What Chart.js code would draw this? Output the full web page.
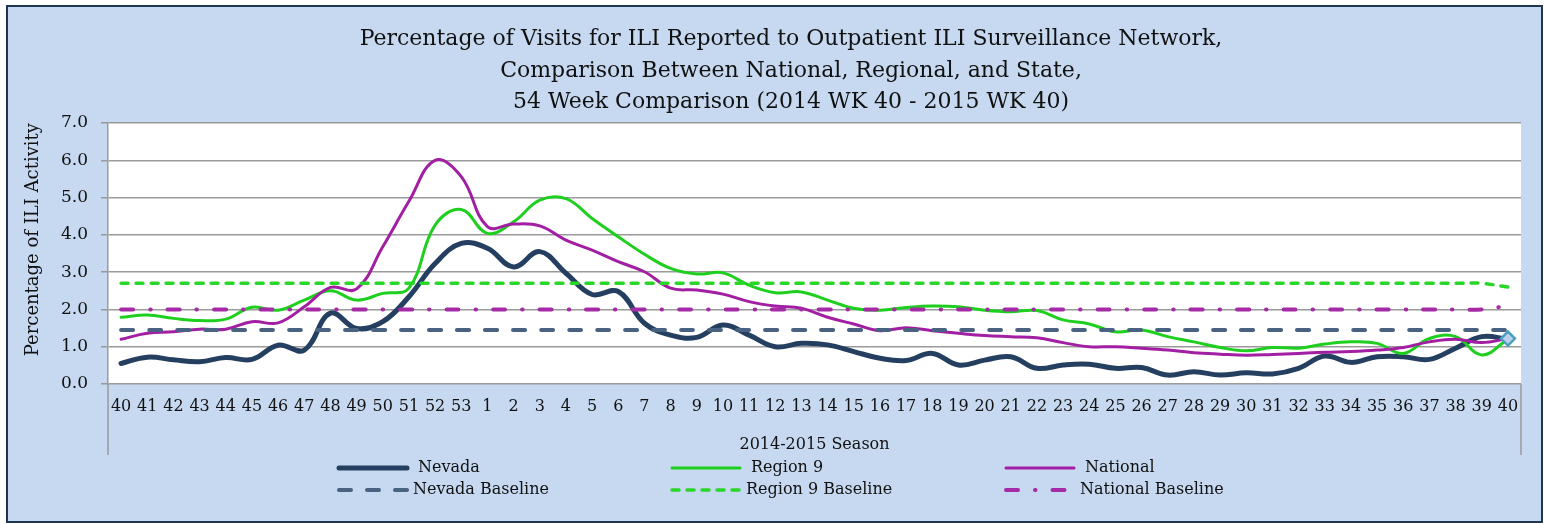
<!DOCTYPE html>
<html>
<head>
<meta charset="utf-8">
<script src="https://cdn.jsdelivr.net/npm/chart.js"></script>
<style>
    body { margin: 0; background: #ffffff; }
    #frame {
        position: absolute; left: 6px; top: 5px; width: 1537px; height: 518px;
        box-sizing: border-box; border: 2px solid #1f3550; background: #c6d9f0;
    }
    #iliChart { position: absolute; left: 0; top: 0; }
</style>
</head>
<body>
<div id="frame"></div>
<canvas id="iliChart" width="1544" height="523"></canvas>
<script>
// สัปดาห์ 2014 WK 40 - 2015 WK 40
var weeks = ['40','41','42','43','44','45','46','47','48','49','50','51','52','53',
    '1','2','3','4','5','6','7','8','9','10','11','12','13','14','15','16','17','18','19','20',
    '21','22','23','24','25','26','27','28','29','30','31','32','33','34','35','36','37','38','39','40'];

var nevada = [0.55, 0.72, 0.65, 0.60, 0.71, 0.66, 1.04, 0.91, 1.90, 1.49, 1.67, 2.34, 3.23, 3.77,
    3.64, 3.14, 3.55, 2.97, 2.40, 2.48, 1.63, 1.31, 1.25, 1.58, 1.31, 1.00, 1.09, 1.05, 0.87, 0.69,
    0.63, 0.82, 0.51, 0.64, 0.73, 0.42, 0.51, 0.53, 0.42, 0.44, 0.24, 0.33, 0.24, 0.30, 0.27, 0.42,
    0.75, 0.58, 0.73, 0.73, 0.66, 0.96, 1.27, 1.20];

var region9 = [1.79, 1.85, 1.76, 1.70, 1.74, 2.06, 1.98, 2.25, 2.50, 2.25, 2.43, 2.57, 4.26, 4.68,
    4.04, 4.35, 4.93, 4.97, 4.44, 3.95, 3.48, 3.10, 2.95, 2.98, 2.65, 2.45, 2.47, 2.25, 2.03, 1.98,
    2.05, 2.09, 2.07, 1.98, 1.94, 1.97, 1.72, 1.61, 1.40, 1.45, 1.27, 1.13, 0.98, 0.89, 0.98, 0.96,
    1.07, 1.13, 1.09, 0.82, 1.22, 1.27, 0.78, 1.20];

var national = [1.20, 1.36, 1.40, 1.47, 1.47, 1.67, 1.64, 2.07, 2.59, 2.55, 3.68, 4.90, 6.00, 5.56,
    4.22, 4.29, 4.24, 3.86, 3.59, 3.28, 3.01, 2.57, 2.52, 2.41, 2.21, 2.09, 2.03, 1.79, 1.61, 1.43,
    1.51, 1.43, 1.36, 1.30, 1.27, 1.24, 1.11, 1.00, 1.00, 0.96, 0.91, 0.84, 0.80, 0.77, 0.79, 0.82,
    0.85, 0.87, 0.91, 0.98, 1.13, 1.20, 1.11, 1.22];

var nevadaBaseline = [1.45, 1.45, 1.45, 1.45, 1.45, 1.45, 1.45, 1.45, 1.45, 1.45, 1.45, 1.45, 1.45, 1.45,
    1.45, 1.45, 1.45, 1.45, 1.45, 1.45, 1.45, 1.45, 1.45, 1.45, 1.45, 1.45, 1.45, 1.45, 1.45, 1.45,
    1.45, 1.45, 1.45, 1.45, 1.45, 1.45, 1.45, 1.45, 1.45, 1.45, 1.45, 1.45, 1.45, 1.45, 1.45, 1.45,
    1.45, 1.45, 1.45, 1.45, 1.45, 1.45, 1.45, 1.45];

var region9Baseline = [2.7, 2.7, 2.7, 2.7, 2.7, 2.7, 2.7, 2.7, 2.7, 2.7, 2.7, 2.7, 2.7, 2.7,
    2.7, 2.7, 2.7, 2.7, 2.7, 2.7, 2.7, 2.7, 2.7, 2.7, 2.7, 2.7, 2.7, 2.7, 2.7, 2.7,
    2.7, 2.7, 2.7, 2.7, 2.7, 2.7, 2.7, 2.7, 2.7, 2.7, 2.7, 2.7, 2.7, 2.7, 2.7, 2.7,
    2.7, 2.7, 2.7, 2.7, 2.7, 2.7, 2.7, 2.6];

var nationalBaseline = [2.0, 2.0, 2.0, 2.0, 2.0, 2.0, 2.0, 2.0, 2.0, 2.0, 2.0, 2.0, 2.0, 2.0,
    2.0, 2.0, 2.0, 2.0, 2.0, 2.0, 2.0, 2.0, 2.0, 2.0, 2.0, 2.0, 2.0, 2.0, 2.0, 2.0,
    2.0, 2.0, 2.0, 2.0, 2.0, 2.0, 2.0, 2.0, 2.0, 2.0, 2.0, 2.0, 2.0, 2.0, 2.0, 2.0,
    2.0, 2.0, 2.0, 2.0, 2.0, 2.0, 2.0, 2.1];

var yTicks = [0, 1, 2, 3, 4, 5, 6, 7];

var titleLines = [
    'Percentage of Visits for ILI Reported to Outpatient ILI Surveillance Network,',
    'Comparison Between National, Regional, and State,',
    '54 Week Comparison (2014 WK 40 - 2015 WK 40)'
];

var serif = '"DejaVu Serif", "Liberation Serif", serif';
Chart.defaults.font.family = serif;
Chart.defaults.color = '#111111';

// ชื่อกราฟ พื้นที่กราฟสีขาว เส้นกรอบแกน x และ legend แบบ 3 คอลัมน์
var decorPlugin = {
    id: 'decor',
    beforeDraw: function(chart) {
        var ctx = chart.ctx, a = chart.chartArea;
        ctx.save();
        ctx.fillStyle = '#ffffff';
        ctx.fillRect(a.left, a.top, a.right - a.left, a.bottom - a.top);
        ctx.restore();
    },
    afterDraw: function(chart) {
        var ctx = chart.ctx, a = chart.chartArea;
        ctx.save();
        // เส้นแนวตั้งสองข้างของป้ายแกน x
        ctx.strokeStyle = '#9a9a9a';
        ctx.lineWidth = 1.5;
        ctx.beginPath();
        ctx.moveTo(a.left, a.bottom); ctx.lineTo(a.left, a.bottom + 71);
        ctx.moveTo(a.right, a.bottom); ctx.lineTo(a.right, a.bottom + 71);
        ctx.stroke();

        // ชื่อกราฟ
        ctx.fillStyle = '#111111';
        ctx.font = '22px ' + serif;
        ctx.textAlign = 'center';
        ctx.textBaseline = 'alphabetic';
        titleLines.forEach(function(line, i) {
            ctx.fillText(line, 791, 45 + i * 31.5);
        });

        // legend
        var cols = [337, 670, 1004];
        var rows = [468, 490];
        ctx.font = '16px ' + serif;
        ctx.textAlign = 'left';
        ctx.textBaseline = 'middle';
        chart.data.datasets.forEach(function(ds, i) {
            var x = cols[i % 3], y = rows[Math.floor(i / 3)];
            ctx.strokeStyle = ds.borderColor;
            ctx.lineWidth = ds.borderWidth;
            ctx.lineCap = 'round';
            ctx.setLineDash(ds.borderDash || []);
            ctx.beginPath();
            ctx.moveTo(x + 2, y);
            ctx.lineTo(x + 70, y);
            ctx.stroke();
            ctx.setLineDash([]);
            ctx.fillText(ds.label, x + (i < 3 ? 81 : 76), y);
        });
        ctx.restore();
    }
};

var ctx = document.getElementById('iliChart').getContext('2d');
var iliChart = new Chart(ctx, {
    type: 'line',
    data: {
        labels: weeks,
        datasets: [{
            label: 'Nevada',
            data: nevada,
            borderColor: '#243f60',
            borderWidth: 5,
            order: 6
        }, {
            label: 'Region 9',
            data: region9,
            borderColor: '#1fcf1f',
            borderWidth: 3,
            order: 5
        }, {
            label: 'National',
            data: national,
            borderColor: '#a21ea2',
            borderWidth: 3,
            order: 4,
            // เครื่องหมายข้าวหลามตัดที่จุดสุดท้าย
            pointRadius: function(c) { return c.dataIndex === weeks.length - 1 ? 7 : 0; },
            pointStyle: 'rectRot',
            pointBorderColor: '#4a9fbd',
            pointBackgroundColor: '#b9d3ea',
            pointBorderWidth: 2.5
        }, {
            label: 'Nevada Baseline',
            data: nevadaBaseline,
            borderColor: '#4a6282',
            borderWidth: 4,
            borderDash: [12, 16],
            order: 3
        }, {
            label: 'Region 9 Baseline',
            data: region9Baseline,
            borderColor: '#2ad62a',
            borderWidth: 3.5,
            borderDash: [7, 8],
            order: 2
        }, {
            label: 'National Baseline',
            data: nationalBaseline,
            borderColor: '#a52aa5',
            borderWidth: 4,
            borderDash: [12, 17, 0.5, 17],
            order: 1
        }]
    },
    options: {
        responsive: false,
        animation: false,
        devicePixelRatio: 1,
        layout: { padding: { top: 123, left: 20, right: 23, bottom: 69 } },
        elements: {
            line: { tension: 0.4, fill: false, borderCapStyle: 'round', borderJoinStyle: 'round' },
            point: { radius: 0, hoverRadius: 0 }
        },
        plugins: {
            legend: { display: false },
            title: { display: false },
            tooltip: { enabled: false }
        },
        scales: {
            x: {
                type: 'category',
                offset: true,
                grid: { display: false, drawTicks: false },
                border: { display: false },
                ticks: {
                    autoSkip: false,
                    maxRotation: 0,
                    padding: 13,
                    color: '#111111',
                    font: { size: 16 }
                },
                title: {
                    display: true,
                    text: '2014-2015 Season',
                    color: '#111111',
                    font: { size: 16 },
                    padding: { top: 0, bottom: 0 }
                },
                afterFit: function(scale) { scale.height = 70; }
            },
            y: {
                min: 0,
                max: 7,
                afterBuildTicks: function(scale) {
                    scale.ticks = yTicks.map(function(v) { return { value: v }; });
                },
                grid: { color: '#9a9a9a', lineWidth: 1.5, tickLength: 7 },
                border: { display: true, color: '#9a9a9a', width: 1.5 },
                ticks: {
                    padding: 13,
                    color: '#111111',
                    font: { size: 17 },
                    callback: function(v) { return Number(v).toFixed(1); }
                },
                title: {
                    display: true,
                    text: 'Percentage of ILI Activity',
                    align: 'end',
                    color: '#111111',
                    font: { size: 18 },
                    padding: { top: 3, bottom: 0 }
                },
                afterFit: function(scale) { scale.width = 88; }
            }
        }
    },
    plugins: [decorPlugin]
});
</script>
</body>
</html>
